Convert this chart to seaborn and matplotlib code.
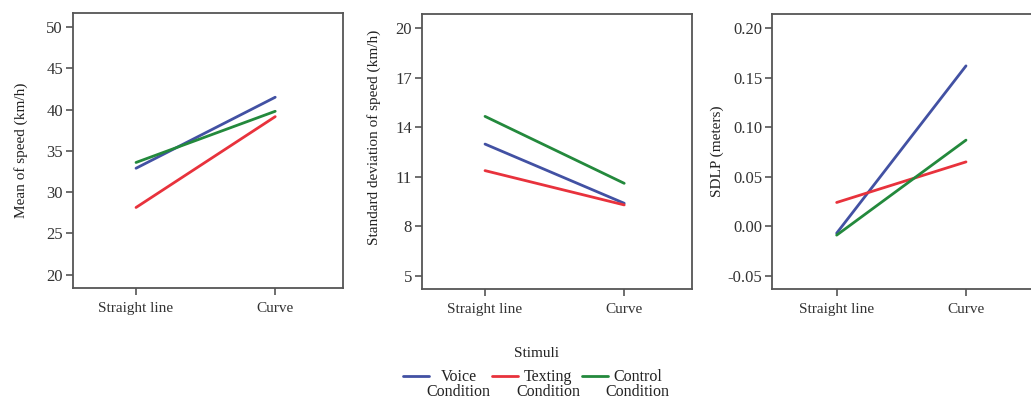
import matplotlib
matplotlib.use("Agg")
import matplotlib.pyplot as plt
import seaborn as sns
import pandas as pd
import numpy as np
from matplotlib.legend_handler import HandlerLine2D

stimuli = ["Straight line", "Curve"]
conditions = ["Voice\nCondition", "Texting\nCondition", "Control\nCondition"]
colors = ["#4251A3", "#E8323C", "#23893C"]

mean_speed = {"Voice\nCondition": [32.9, 41.5],
              "Texting\nCondition": [28.15, 39.15],
              "Control\nCondition": [33.6, 39.8]}
sd_speed = {"Voice\nCondition": [12.98, 9.39],
            "Texting\nCondition": [11.37, 9.29],
            "Control\nCondition": [14.66, 10.6]}
sdlp = {"Voice\nCondition": [-0.007, 0.162],
        "Texting\nCondition": [0.024, 0.065],
        "Control\nCondition": [-0.009, 0.087]}

ylabels = ["Mean of speed (km/h)", "Standard deviation of speed (km/h)", "SDLP (meters)"]
yticks = [[20, 25, 30, 35, 40, 45, 50], [5, 8, 11, 14, 17, 20],
          [-0.05, 0.00, 0.05, 0.10, 0.15, 0.20]]
yticklabels = [["20", "25", "30", "35", "40", "45", "50"],
               ["5", "8", "11", "14", "17", "20"],
               ["-0.05", "0.00", "0.05", "0.10", "0.15", "0.20"]]
ylims = [(18.4, 51.7), (4.19, 20.87), (-0.0634, 0.2144)]
xlims = [(-0.455, 1.487), (-0.455, 1.487), (-0.50, 1.59)]
label_coords = [(-0.164, 0.5), (-0.149, 0.553), (-0.176, 0.5)]

sns.set_theme(style="white")
plt.rcParams["font.family"] = ["Liberation Serif", "DejaVu Serif"]

fig = plt.figure(figsize=(10.31, 4.0), dpi=100)
positions = [(72.7, 13, 270.3, 275), (421.7, 14, 270.3, 275), (772, 14, 270.3, 275)]
W, H = 1031, 400
datasets = [mean_speed, sd_speed, sdlp]

for i, (data, pos) in enumerate(zip(datasets, positions)):
    l, t, w, h = pos
    ax = fig.add_axes([l / W, 1 - (t + h) / H, w / W, h / H])
    rows = []
    for c in conditions:
        for s, v in zip(stimuli, data[c]):
            rows.append({"Stimuli": s, "Condition": c, "value": v})
    df = pd.DataFrame(rows)
    sns.lineplot(data=df, x="Stimuli", y="value", hue="Condition",
                 hue_order=conditions, palette=colors, sort=False,
                 linewidth=2.0, ax=ax, legend=False)
    ax.set_xlim(*xlims[i])
    ax.set_ylim(*ylims[i])
    ax.set_yticks(yticks[i])
    ax.set_yticklabels(yticklabels[i])
    ax.set_xticks([0, 1])
    ax.set_xticklabels(stimuli)
    ax.set_xlabel("")
    ax.set_ylabel(ylabels[i], fontsize=11, color="#222222")
    ax.yaxis.set_label_coords(*label_coords[i])
    for sp in ax.spines.values():
        sp.set_color("#555555")
        sp.set_linewidth(1.3)
    ax.tick_params(axis="both", direction="out", length=5, width=1.2,
                   color="#555555", labelcolor="#333333",
                   left=True, bottom=True, pad=2)
    ax.tick_params(axis="y", labelsize=12)
    ax.tick_params(axis="x", labelsize=11, pad=5)


class UpHandler(HandlerLine2D):
    def create_artists(self, legend, orig_handle, xdescent, ydescent,
                       width, height, fontsize, trans):
        artists = super().create_artists(legend, orig_handle, xdescent, ydescent,
                                         width, height, fontsize, trans)
        for a in artists:
            a.set_ydata(np.asarray(a.get_ydata()) + 0.55 * fontsize)
        return artists


handles = [plt.Line2D([], [], color=c, lw=2.0) for c in colors]
leg = fig.legend(handles, conditions, loc="upper center", ncol=3,
                 bbox_to_anchor=(0.52, 0.153), frameon=False,
                 title="Stimuli", fontsize=11.5, title_fontsize=11,
                 handlelength=1.65, handletextpad=-0.15, columnspacing=0.1,
                 borderpad=0.0, labelspacing=0.55,
                 handler_map={plt.Line2D: UpHandler()})
for txt in leg.get_texts():
    txt.set_multialignment("center")
    txt.set_linespacing(0.95)
    txt.set_color("#222222")
leg.get_title().set_color("#222222")

fig.savefig("out.png", dpi=100)
